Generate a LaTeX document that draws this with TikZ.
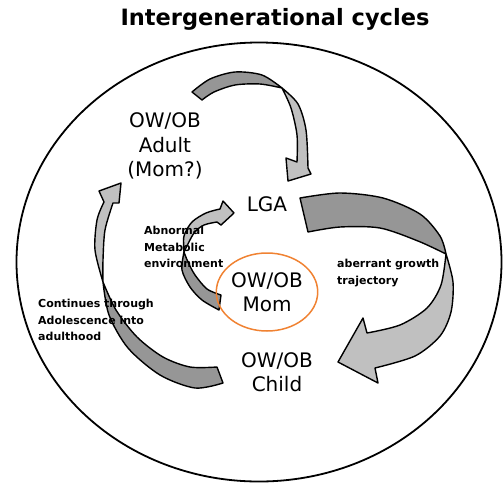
\documentclass[tikz,border=0pt]{standalone}
\usepackage{fontspec}
\setmainfont{DejaVu Sans}
\usetikzlibrary{shapes.geometric}
\definecolor{darkface}{RGB}{150,150,150}
\definecolor{lightface}{RGB}{192,192,192}
\definecolor{momorange}{RGB}{240,130,50}
\tikzset{
  darkpart/.style={fill=darkface, draw=black, line width=1.4pt, line join=round},
  lightpart/.style={fill=lightface, draw=black, line width=1.4pt, line join=round},
  biglabel/.style={align=center, inner sep=0pt, font=\fontsize{20}{24.5}\selectfont},
  smalllabel/.style={align=left, inner sep=0pt, anchor=west, font=\bfseries\fontsize{11}{16.3}\selectfont},
}
\begin{document}
\begin{tikzpicture}[x=1pt,y=-1pt]
\useasboundingbox (0,0) rectangle (503,483);
% outer ellipse
\node[draw, ellipse, line width=1.8pt, minimum width=485pt, minimum height=439pt, inner sep=0pt] (outer) at (259,262) {};
% title
\node[inner sep=0pt, font=\bfseries\fontsize{22.5}{26}\selectfont] (title) at (275,19) {Intergenerational cycles};

% arrow 1 (Adult -> LGA)
\filldraw[darkpart] plot[smooth] coordinates {(192,92) (210,79) (235,72) (262,75) (282,88)}
  -- plot[smooth] coordinates {(282,88) (260,84) (235,85) (214,92) (202,100)} -- cycle;
\filldraw[lightpart] plot[smooth] coordinates {(282,88) (298,104) (306,130) (308,168)}
  -- (311,174) -- (288,181) -- (286,158) -- (297,162)
  -- plot[smooth] coordinates {(297,162) (297,135) (291,108) (282,88)} -- cycle;

% arrow 2 (LGA -> Child)
\filldraw[darkpart] plot[smooth] coordinates {(300,198) (340,193) (383,198) (420,214) (440,236) (446,254)}
  -- plot[smooth] coordinates {(446,254) (418,241) (380,228) (340,227) (308,232)} -- cycle;
\filldraw[lightpart] plot[smooth] coordinates {(446,254) (453,282) (451,312) (440,336) (415,356) (375,368)}
  -- (378,383) -- (338,362) -- (363,318) -- (367,333)
  -- plot[smooth] coordinates {(367,333) (400,325) (427,308) (441,285) (446,254)} -- cycle;

% arrow 3 (Child -> Adult)
\filldraw[darkpart] plot[smooth] coordinates {(223,383) (195,388) (160,375) (128,348) (109,315) (103,282)}
  -- plot[smooth] coordinates {(103,282) (116,310) (137,337) (163,357) (190,367) (217,367)} -- cycle;
\filldraw[lightpart] plot[smooth] coordinates {(103,282) (95,250) (97,220) (104,202)}
  -- (99,191) -- (121,183) -- (119,203) -- (113,203)
  -- plot[smooth] coordinates {(113,203) (105,230) (103,260) (103,282)} -- cycle;

% arrow 4 (Mom -> LGA)
\filldraw[darkpart] plot[smooth] coordinates {(221,295) (207,289) (195,275) (188,262) (184,252)}
  -- plot[smooth] coordinates {(184,252) (182,270) (190,287) (202,300) (219,310)} -- cycle;
\filldraw[lightpart] plot[smooth] coordinates {(184,252) (184,236) (192,222) (206,213) (220,209)}
  -- (223,201) -- (234,213) -- (221,225) -- (217,222)
  -- plot[smooth] coordinates {(217,222) (204,225) (194,233) (184,252)} -- cycle;

% labels
\node[biglabel] (adult) at (165,146) {OW/OB\\Adult\\(Mom?)};
\node[biglabel] (lga) at (267,204) {LGA};
\node[biglabel, draw=momorange, line width=1.5pt, ellipse, minimum width=90pt, minimum height=78pt] (mom) at (267,292) {OW/OB\\Mom};
\node[biglabel] (child) at (277,372) {OW/OB\\Child};
\node[smalllabel] (abn) at (144,247) {Abnormal\\Metabolic\\environment};
\node[smalllabel] (aber) at (337,273) {aberrant growth\\trajectory};
\node[smalllabel] (cont) at (38,320) {Continues through\\Adolescence into\\adulthood};
\end{tikzpicture}
\end{document}
